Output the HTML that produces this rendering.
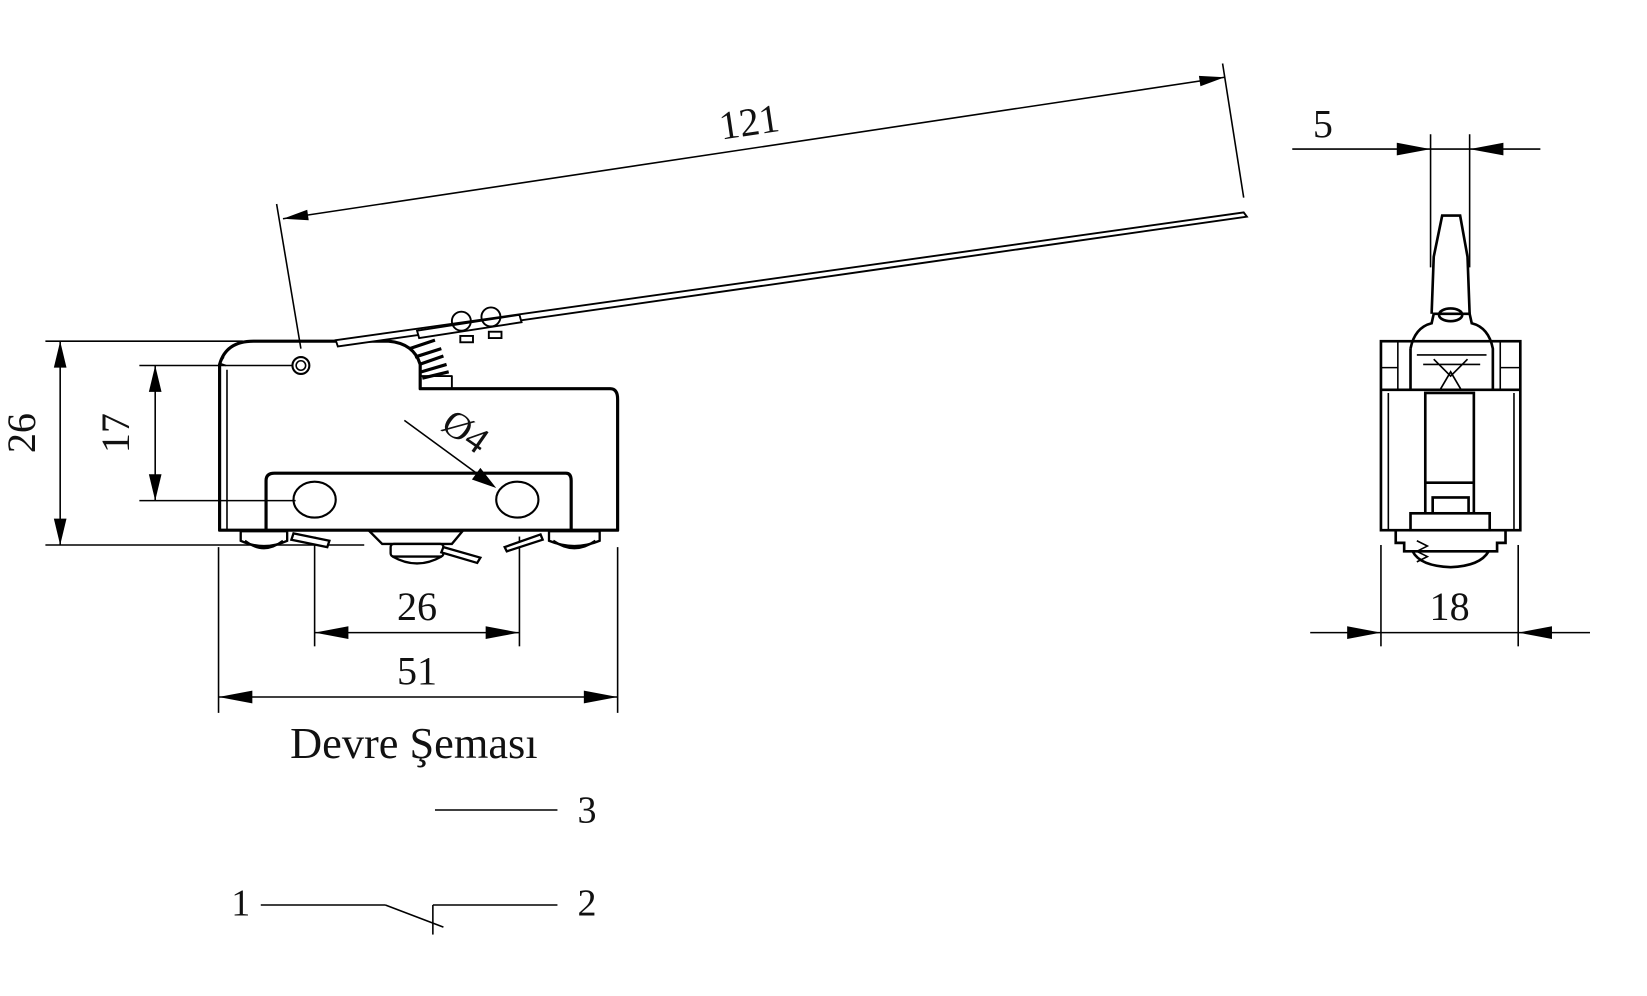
<!DOCTYPE html>
<html><head><meta charset="utf-8"><style>
html,body{margin:0;padding:0;background:#fff}
svg{display:block}
text{font-family:"Liberation Serif",serif;fill:#111}
</style></head><body>
<svg width="1647" height="996" viewBox="0 0 1560 943" xmlns="http://www.w3.org/2000/svg">
<g stroke="#000" fill="none" stroke-width="1.5">
<line x1="268" y1="207" x2="1160" y2="73"/>
<line x1="262" y1="193" x2="285" y2="330"/>
<line x1="1158" y1="60" x2="1178" y2="187"/>
<line x1="57" y1="323" x2="57" y2="516"/>
<line x1="43" y1="323" x2="230" y2="323"/>
<line x1="43" y1="516" x2="345" y2="516"/>
<line x1="147" y1="346" x2="147" y2="474"/>
<line x1="132" y1="346" x2="277" y2="346"/>
<line x1="132" y1="474" x2="280" y2="474"/>
<line x1="383" y1="398" x2="465" y2="458"/>
<line x1="298" y1="599" x2="492" y2="599"/>
<line x1="298" y1="508" x2="298" y2="612"/>
<line x1="492" y1="508" x2="492" y2="612"/>
<line x1="207" y1="660" x2="585" y2="660"/>
<line x1="207" y1="518" x2="207" y2="675"/>
<line x1="585" y1="518" x2="585" y2="675"/>
<line x1="412" y1="767" x2="528" y2="767"/>
<line x1="247" y1="857" x2="365" y2="857"/>
<line x1="365" y1="857" x2="420" y2="878"/>
<line x1="410" y1="857" x2="410" y2="885"/>
<line x1="410" y1="857" x2="528" y2="857"/>
<line x1="1224" y1="141" x2="1459" y2="141"/>
<line x1="1355" y1="127" x2="1355" y2="253"/>
<line x1="1392" y1="127" x2="1392" y2="253"/>
<line x1="1241" y1="599" x2="1506" y2="599"/>
<line x1="1308" y1="516" x2="1308" y2="612"/>
<line x1="1438" y1="516" x2="1438" y2="612"/>
</g>
<g fill="#000">
<polygon points="268,207 292.4,208.4 291,198.5"/>
<polygon points="1160,73 1137,81.5 1135.6,71.7"/>
<polygon points="57,323 51,348 63,348"/>
<polygon points="57,516 51,491 63,491"/>
<polygon points="147,346 141,371 153,371"/>
<polygon points="147,474 141,449 153,449"/>
<polygon points="470,462 447,454 455,443"/>
<polygon points="298,599 330,593 330,605"/>
<polygon points="492,599 460,593 460,605"/>
<polygon points="207,660 239,654 239,666"/>
<polygon points="585,660 553,654 553,666"/>
<polygon points="1355,141 1323,135 1323,147"/>
<polygon points="1392,141 1424,135 1424,147"/>
<polygon points="1308,599 1276,593 1276,605"/>
<polygon points="1438,599 1470,593 1470,605"/>
</g>
<g stroke="#000" fill="none" stroke-width="3" stroke-linejoin="round">
<path d="M208,502 V345 Q214,323 240,323 H368 Q392,325 398,345 V368 H578 Q585,368 585,378 V502 Z"/>
<path d="M252,502 V455 Q252,448 260,448 H536 Q541,448 541,455 V502"/>
<ellipse cx="298" cy="473" rx="20" ry="17" stroke-width="2"/>
<ellipse cx="490" cy="473" rx="20" ry="17" stroke-width="2"/>
<circle cx="285" cy="346" r="8" stroke-width="2"/>
<circle cx="285" cy="346" r="4.5" stroke-width="1.5"/>
<line x1="215" y1="350" x2="215" y2="502" stroke-width="1.5"/>
<path d="M212,338 L208,344 L214,346" stroke-width="1.5"/>
<rect x="398" y="356" width="30" height="12" stroke-width="1.8"/>
</g>
<g stroke="#000" fill="none" stroke-width="1.8">
<polygon points="318,322 1178,201 1181,205 320,328" fill="#fff"/>
<polygon points="395,313 492,298 494,305 397,320" fill="#fff"/>
<circle cx="437" cy="304" r="9"/>
<circle cx="465" cy="300" r="9"/>
<rect x="436" y="318" width="12" height="6"/>
<rect x="463" y="314" width="12" height="6"/>
</g>
<g stroke="#000" stroke-width="3">
<line x1="388" y1="330" x2="412" y2="322"/>
<line x1="393" y1="338" x2="418" y2="330"/>
<line x1="397" y1="345" x2="420" y2="337"/>
<line x1="399" y1="352" x2="423" y2="345"/>
<line x1="400" y1="358" x2="425" y2="352"/>
</g>
<g stroke="#000" fill="#fff" stroke-width="2.2">
<path d="M228,503 H272 V512 Q250,522 228,512 Z"/>
<path d="M232,512 Q250,526 268,512" fill="none"/>
<path d="M278,505 L312,512 L310,518 L276,511 Z"/>
<path d="M350,503 H438 L428,515 H362 Z"/>
<rect x="370" y="515" width="50" height="12" rx="3"/>
<path d="M372,527 Q395,540 418,527" fill="none"/>
<path d="M420,518 L455,528 L452,533 L418,523 Z"/>
<path d="M478,518 L512,506 L514,511 L480,522 Z"/>
<path d="M520,503 H568 V512 Q544,522 520,512 Z"/>
<path d="M524,512 Q544,526 564,512" fill="none"/>
</g>
<g stroke="#000" fill="none" stroke-width="2.5">
<rect x="1308" y="323" width="132" height="179"/>
<line x1="1308" y1="369" x2="1440" y2="369"/>
<line x1="1315" y1="372" x2="1315" y2="502" stroke-width="1.5"/>
<line x1="1434" y1="372" x2="1434" y2="502" stroke-width="1.5"/>
<line x1="1324" y1="323" x2="1324" y2="369" stroke-width="1.5"/>
<line x1="1421" y1="323" x2="1421" y2="369" stroke-width="1.5"/>
<line x1="1308" y1="348" x2="1324" y2="348" stroke-width="1.5"/>
<line x1="1421" y1="348" x2="1440" y2="348" stroke-width="1.5"/>
<rect x="1350" y="372" width="46" height="117"/>
<line x1="1350" y1="457" x2="1396" y2="457"/>
<rect x="1357" y="471" width="34" height="15"/>
<rect x="1336" y="486" width="75" height="16" fill="#fff"/>
<path d="M1322,502 V514 H1330 V522 H1418 V514 H1426 V502"/>
<path d="M1338,522 Q1345,536 1374,537 Q1402,536 1410,522"/>
<path d="M1342,512 L1352,517 L1342,522 L1352,527 L1342,532" stroke-width="1.5"/>
<path d="M1356,297 L1358,243 L1366,204 H1383 L1390,243 L1392,297"/>
<path d="M1336,330 Q1340,310 1356,306 L1358,297 H1392 L1394,306 Q1410,310 1414,330 V369"/>
<path d="M1336,330 V369"/>
<ellipse cx="1374" cy="298" rx="11" ry="6"/>
<path d="M1342,336 H1408 M1348,345 H1402 M1358,340 L1374,356 L1390,340 M1364,369 L1374,352 L1384,369" stroke-width="1.6"/>
</g>
<text x="710" y="128" font-size="38" text-anchor="middle" transform="rotate(-8.5 710 118)">121</text>
<text x="33" y="410" font-size="38" text-anchor="middle" transform="rotate(-90 33 410)">26</text>
<text x="122" y="410" font-size="38" text-anchor="middle" transform="rotate(-90 122 410)">17</text>
<text x="440" y="420" font-size="36" text-anchor="middle" transform="rotate(35 440 410)">Ø4</text>
<text x="395" y="587" font-size="38" text-anchor="middle">26</text>
<text x="395" y="648" font-size="38" text-anchor="middle">51</text>
<text x="392" y="718" font-size="42" text-anchor="middle">Devre Şeması</text>
<text x="556" y="779" font-size="36" text-anchor="middle">3</text>
<text x="228" y="867" font-size="36" text-anchor="middle">1</text>
<text x="556" y="867" font-size="36" text-anchor="middle">2</text>
<text x="1253" y="130" font-size="38" text-anchor="middle">5</text>
<text x="1373" y="587" font-size="38" text-anchor="middle">18</text>
</svg>
</body></html>
